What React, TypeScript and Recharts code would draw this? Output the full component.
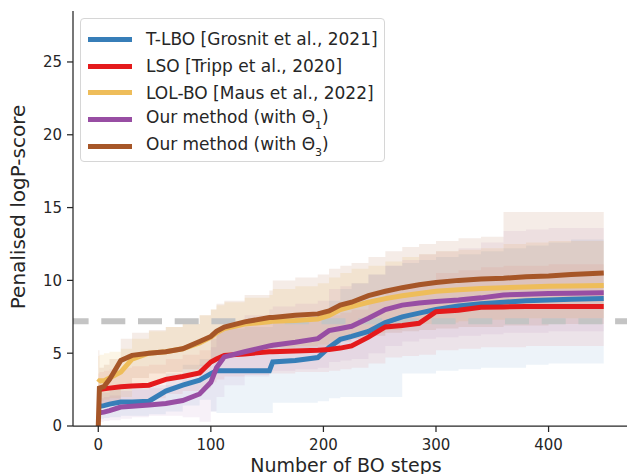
import React from "react";
import {
  ComposedChart,
  Line,
  Area,
  XAxis,
  YAxis,
  ReferenceLine,
  Legend,
  Label,
} from "recharts";

const STEPS = [0, 1, 5, 10, 20, 30, 45, 60, 75, 90, 100, 105, 112, 130, 152, 155, 175, 195, 205, 215, 225, 240, 255, 270, 285, 300, 320, 340, 360, 380, 400, 420, 449];

// mean curves
const TLBO = [1.3, 1.35, 1.4, 1.5, 1.65, 1.65, 1.7, 2.4, 2.8, 3.15, 3.6, 3.8, 3.8, 3.8, 3.8, 4.4, 4.5, 4.7, 5.4, 5.95, 6.15, 6.5, 7.1, 7.5, 7.75, 8.0, 8.25, 8.4, 8.5, 8.6, 8.65, 8.7, 8.75];
const LSO = [2.45, 2.5, 2.55, 2.6, 2.7, 2.75, 2.8, 3.2, 3.4, 3.65, 4.4, 4.6, 4.85, 4.95, 5.1, 5.1, 5.15, 5.2, 5.25, 5.35, 5.5, 6.1, 6.8, 6.9, 7.05, 7.85, 7.95, 8.15, 8.18, 8.2, 8.2, 8.2, 8.2];
const LOLBO = [3.0, 3.1, 3.1, 3.3, 3.7, 4.6, 5.0, 5.1, 5.3, 5.7, 6.1, 6.4, 6.7, 7.0, 7.15, 7.2, 7.25, 7.35, 7.6, 8.0, 8.2, 8.5, 8.75, 8.95, 9.1, 9.25, 9.35, 9.45, 9.5, 9.55, 9.6, 9.62, 9.65];
const OURS_T1 = [0.85, 0.9, 0.95, 1.05, 1.3, 1.35, 1.45, 1.55, 1.75, 2.2, 3.0, 4.0, 4.75, 5.1, 5.5, 5.55, 5.75, 6.0, 6.55, 6.7, 6.85, 7.4, 8.0, 8.3, 8.45, 8.55, 8.65, 8.8, 9.0, 9.05, 9.1, 9.12, 9.15];
const OURS_T3 = [0, 2.6, 2.7, 3.2, 4.5, 4.85, 5.0, 5.1, 5.3, 5.8, 6.15, 6.5, 6.8, 7.15, 7.45, 7.45, 7.6, 7.7, 7.9, 8.3, 8.5, 8.95, 9.25, 9.5, 9.7, 9.85, 10.0, 10.1, 10.15, 10.25, 10.3, 10.4, 10.5];

// spread bands (low / high)
const TLBO_LO = [0.5, 0.5, 0.55, 0.6, 0.7, 0.7, 0.8, 1.0, 1.4, 1.8, 1.0, 0.9, 0.9, 0.9, 0.9, 1.6, 1.6, 1.7, 1.9, 2.0, 2.0, 2.0, 2.0, 3.6, 3.6, 3.8, 3.9, 4.0, 4.0, 4.2, 4.3, 4.3, 4.4];
const TLBO_HI = [2.2, 2.3, 2.3, 2.5, 2.7, 2.7, 2.8, 3.6, 4.2, 4.6, 6.0, 6.7, 6.7, 6.8, 6.8, 7.2, 7.4, 7.6, 8.6, 9.4, 9.8, 10.4, 11.0, 11.2, 11.4, 11.6, 11.8, 12.0, 12.2, 12.4, 12.6, 12.8, 12.8];
const LSO_LO = [1.4, 1.5, 1.5, 1.6, 1.7, 1.8, 1.9, 2.2, 2.4, 2.6, 3.0, 3.2, 3.4, 3.5, 3.6, 3.6, 3.7, 3.7, 3.8, 3.9, 4.0, 4.3, 4.7, 4.8, 4.9, 5.2, 5.3, 5.4, 5.4, 5.5, 5.5, 5.5, 5.5];
const LSO_HI = [3.6, 3.7, 3.8, 3.9, 4.0, 4.1, 4.2, 4.6, 4.9, 5.2, 6.2, 6.5, 6.8, 7.0, 7.2, 7.3, 7.4, 7.5, 7.6, 7.8, 8.0, 8.6, 9.4, 9.6, 9.8, 10.5, 10.7, 10.9, 11.0, 11.0, 11.1, 11.1, 11.1];
const LOLBO_LO = [1.6, 1.7, 1.8, 1.9, 2.0, 2.6, 3.0, 3.3, 3.6, 4.0, 4.3, 4.6, 4.9, 5.2, 5.3, 5.4, 5.5, 5.6, 5.8, 6.0, 6.2, 6.4, 6.6, 6.8, 7.0, 7.1, 7.2, 7.3, 7.3, 7.4, 7.4, 7.4, 7.4];
const LOLBO_HI = [4.8, 4.9, 5.0, 5.1, 5.3, 6.0, 6.5, 6.8, 7.0, 7.6, 8.0, 8.3, 8.5, 8.8, 9.0, 9.4, 9.6, 9.8, 10.2, 10.5, 10.8, 11.0, 11.3, 11.6, 11.8, 12.0, 12.1, 12.2, 12.5, 12.6, 12.7, 12.7, 12.8];
const T1_LO = [0.3, 0.3, 0.35, 0.4, 0.5, 0.6, 0.7, 0.7, 0.6, 0.3, 1.0, 2.0, 2.8, 3.4, 3.7, 3.8, 3.9, 4.0, 4.4, 4.5, 4.6, 5.0, 5.5, 5.8, 6.0, 6.1, 6.2, 6.3, 6.4, 6.4, 6.5, 6.5, 6.5];
const T1_HI = [1.8, 1.9, 2.0, 2.1, 2.4, 2.5, 2.6, 2.8, 3.2, 4.2, 5.4, 6.5, 7.2, 7.6, 8.0, 8.2, 8.4, 8.6, 9.4, 9.6, 9.8, 10.4, 11.0, 11.4, 11.8, 12.0, 12.2, 12.6, 13.4, 13.5, 13.6, 13.6, 13.6];
const T3_LO = [1.0, 1.2, 1.3, 1.6, 2.8, 3.3, 3.6, 3.7, 3.9, 4.1, 4.4, 4.6, 4.8, 5.0, 5.2, 5.2, 5.3, 5.4, 5.6, 5.8, 6.0, 6.2, 6.4, 6.5, 6.6, 6.7, 6.8, 6.8, 6.9, 6.9, 7.0, 7.0, 7.0];
const T3_HI = [5.2, 4.0, 4.2, 4.6, 6.0, 6.4, 6.6, 6.8, 7.0, 7.6, 8.0, 8.4, 8.6, 9.0, 9.3, 10.0, 10.2, 10.4, 10.8, 11.0, 11.2, 11.6, 12.0, 12.3, 12.5, 12.7, 12.9, 13.0, 14.7, 14.7, 14.7, 14.7, 14.7];

const REFERENCE_SCORE = 7.2;
const X_TICKS = [0, 100, 200, 300, 400];
const Y_TICKS = [0, 5, 10, 15, 20, 25];

const FONT = "'DejaVu Sans', sans-serif";
const INK = "#262626";

const SERIES = [
  { key: "tlbo", name: "T-LBO [Grosnit et al., 2021]", sub: "", color: "#377eb8", band: 0.09, values: TLBO, lo: TLBO_LO, hi: TLBO_HI },
  { key: "lso", name: "LSO [Tripp et al., 2020]", sub: "", color: "#e41a1c", band: 0.07, values: LSO, lo: LSO_LO, hi: LSO_HI },
  { key: "lolbo", name: "LOL-BO [Maus et al., 2022]", sub: "", color: "#eebd5a", band: 0.15, values: LOLBO, lo: LOLBO_LO, hi: LOLBO_HI },
  { key: "t1", name: "Our method (with Θ", sub: "1", color: "#984ea3", band: 0.08, values: OURS_T1, lo: T1_LO, hi: T1_HI },
  { key: "t3", name: "Our method (with Θ", sub: "3", color: "#a65628", band: 0.11, values: OURS_T3, lo: T3_LO, hi: T3_HI },
];

const data = STEPS.map((step, i) => {
  const row: Record<string, number | number[]> = { step };
  SERIES.forEach((s) => {
    row[s.key] = s.values[i];
    row[s.key + "Band"] = [s.lo[i], s.hi[i]];
  });
  return row;
});

const LegendBox = () => (
  <div
    style={{
      border: "1px solid #d6d6d6",
      borderRadius: 4,
      background: "rgba(255,255,255,0.85)",
      padding: "7px 6px 2px 7px",
      fontFamily: FONT,
      fontSize: 17,
      color: INK,
      width: 290,
    }}
  >
    {SERIES.map((s) => (
      <div key={s.key} style={{ display: "flex", alignItems: "center", height: 26.7 }}>
        <span style={{ display: "inline-block", width: 44, height: 5, background: s.color, marginRight: 14 }} />
        <span style={{ whiteSpace: "nowrap" }}>
          {s.name}
          {s.sub && (
            <>
              <sub style={{ fontSize: 11, verticalAlign: -6 }}>{s.sub}</sub>)
            </>
          )}
        </span>
      </div>
    ))}
  </div>
);

export default function App() {
  return (
    <div style={{ position: "absolute", left: 0, top: 0, width: 627, height: 474, overflow: "hidden", background: "#fff" }}>
      <ComposedChart
        width={640}
        height={474}
        data={data}
        margin={{ top: 11, right: 11, bottom: 18, left: 13 }}
      >
        <XAxis
          dataKey="step"
          type="number"
          domain={[-22.45, 471.45]}
          ticks={X_TICKS}
          allowDataOverflow
          height={30}
          tickSize={6}
          tickMargin={7}
          stroke={INK}
          strokeWidth={1.25}
          tick={{ fill: INK, fontSize: 15, fontFamily: FONT }}
        >
          <Label
            content={({ viewBox }: any) => (
              <text
                x={viewBox.x + viewBox.width / 2 - 5}
                y={472}
                textAnchor="middle"
                fill={INK}
                fontSize={19}
                fontFamily={FONT}
              >
                Number of BO steps
              </text>
            )}
          />
        </XAxis>
        <YAxis
          type="number"
          domain={[0, 28.5]}
          ticks={Y_TICKS}
          allowDataOverflow
          width={60}
          tickSize={6}
          tickMargin={5}
          stroke={INK}
          strokeWidth={1.25}
          tick={{ fill: INK, fontSize: 15, fontFamily: FONT }}
        >
          <Label
            content={() => (
              <text
                transform="translate(25,207) rotate(-90)"
                textAnchor="middle"
                fill={INK}
                fontSize={20}
                fontFamily={FONT}
              >
                Penalised logP-score
              </text>
            )}
          />
        </YAxis>
        {SERIES.map((s) => (
          <Area
            key={s.key + "Band"}
            dataKey={s.key + "Band"}
            type="stepAfter"
            stroke="none"
            fill={s.color}
            fillOpacity={s.band}
            isAnimationActive={false}
            legendType="none"
          />
        ))}
        <ReferenceLine
          y={REFERENCE_SCORE}
          stroke="#c4c4c4"
          strokeWidth={6}
          strokeDasharray="24 12.7"
          strokeDashoffset={8.4}
        />
        {SERIES.map((s) => (
          <Line
            key={s.key}
            dataKey={s.key}
            name={s.name}
            type="linear"
            stroke={s.color}
            strokeWidth={5}
            dot={false}
            activeDot={false}
            isAnimationActive={false}
          />
        ))}
        <Legend
          layout="vertical"
          align="center"
          verticalAlign="middle"
          wrapperStyle={{ top: 18, left: 80, width: "auto" }}
          content={() => <LegendBox />}
        />
      </ComposedChart>
    </div>
  );
}
